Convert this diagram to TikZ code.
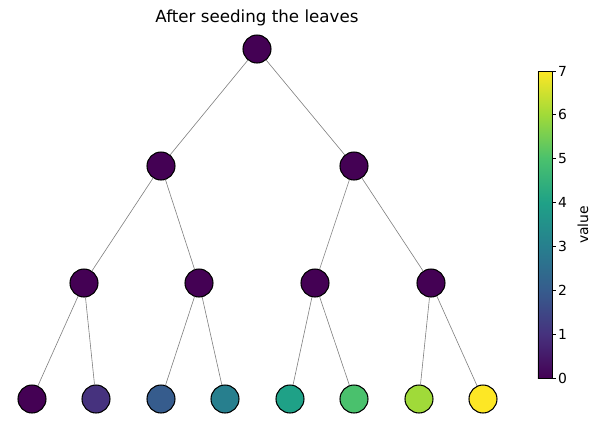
\documentclass[tikz,border=0pt]{standalone}
\usepackage{fontspec}
\setmainfont{DejaVu Sans}
\definecolor{v0}{HTML}{440154}
\definecolor{v1}{HTML}{46327E}
\definecolor{v2}{HTML}{365C8D}
\definecolor{v3}{HTML}{277F8E}
\definecolor{v4}{HTML}{1FA187}
\definecolor{v5}{HTML}{4AC16D}
\definecolor{v6}{HTML}{A0DA39}
\definecolor{v7}{HTML}{FDE725}
\pgfdeclareverticalshading{viridis}{100bp}{color(0bp)=(v0); color(25bp)=(v0);
  color(32.143bp)=(v1); color(39.286bp)=(v2); color(46.429bp)=(v3);
  color(53.571bp)=(v4); color(60.714bp)=(v5); color(67.857bp)=(v6);
  color(75bp)=(v7); color(100bp)=(v7)}
\tikzset{
  vtx/.style={circle, draw=black, line width=0.6pt, minimum size=0.56cm, inner sep=0pt},
  edge/.style={draw=gray, line width=0.35pt},
  ticklbl/.style={font=\fontsize{7.9}{9}\selectfont, inner sep=1pt}
}
\begin{document}
\begin{tikzpicture}[x=0.02cm, y=-0.02cm]
\useasboundingbox (0,0) rectangle (600,427);
\node[font=\fontsize{9.5}{11}\selectfont] (title) at (257,18) {After seeding the leaves};
% tree
\node[vtx, fill=v0] (r) at (257,49) {};
\node[vtx, fill=v0] (a0) at (161,166) {};
\node[vtx, fill=v0] (a1) at (354,166) {};
\foreach \i/\x in {0/84, 1/199, 2/315, 3/431}
	\node[vtx, fill=v0] (m\i) at (\x,283) {};
\foreach \i/\x in {0/32, 1/96, 2/161, 3/225, 4/290, 5/354, 6/419, 7/483}
	\node[vtx, fill=v\i] (l\i) at (\x,399) {};
\draw[edge] (r) -- (a0);
\draw[edge] (r) -- (a1);
\draw[edge] (a0) -- (m0);
\draw[edge] (a0) -- (m1);
\draw[edge] (a1) -- (m2);
\draw[edge] (a1) -- (m3);
\foreach \i [evaluate=\i as \a using int(2*\i), evaluate=\i as \b using int(2*\i+1)] in {0,...,3}
{
	\draw[edge] (m\i) -- (l\a);
	\draw[edge] (m\i) -- (l\b);
}
% colorbar
\shade[shading=viridis] (538,378) rectangle (552,71);
\draw[line width=0.5pt] (538,71) rectangle (552,378);
\foreach \v in {0,...,7}
	\draw[line width=0.5pt] (552,378-43.857*\v) -- ++(4,0) node[right, ticklbl] (t\v) {\v};
\node[ticklbl, rotate=90] (cblabel) at (583,225) {value};
\end{tikzpicture}
\end{document}
